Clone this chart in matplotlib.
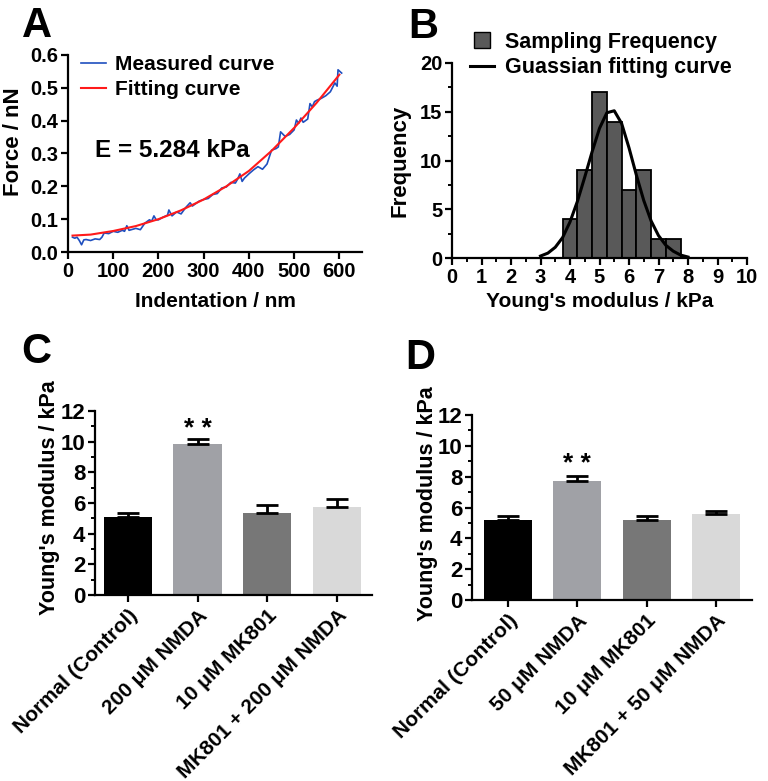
import matplotlib
matplotlib.use("Agg")
import matplotlib.pyplot as plt
from matplotlib.lines import Line2D
import numpy as np

plt.rcParams['font.family'] = ['Liberation Sans', 'DejaVu Sans']
plt.rcParams['font.weight'] = 'bold'

# ---------------- Panel A data ----------------
meas_x = [10, 15, 20, 25, 30, 35, 40, 50, 60, 70, 75, 80, 90, 100, 110, 120, 125, 130,
          135, 140, 150, 160, 170, 180, 185, 190, 195, 200, 210, 220, 223, 230, 240,
          250, 260, 270, 275, 280, 290, 300, 310, 320, 330, 340, 350, 360, 370, 375,
          380, 385, 390, 400, 410, 420, 430, 440, 450, 460, 465, 470, 480, 490, 500,
          505, 510, 515, 520, 530, 535, 540, 545, 550, 560, 570, 580, 590, 595, 597,
          605]
meas_y = [0.045, 0.042, 0.045, 0.035, 0.022, 0.037, 0.038, 0.035, 0.040, 0.038,
          0.045, 0.058, 0.056, 0.063, 0.060, 0.066, 0.063, 0.080, 0.066, 0.068,
          0.072, 0.068, 0.088, 0.098, 0.094, 0.110, 0.098, 0.098, 0.106, 0.112,
          0.128, 0.110, 0.122, 0.116, 0.135, 0.150, 0.140, 0.145, 0.155, 0.160,
          0.163, 0.175, 0.178, 0.195, 0.198, 0.212, 0.210, 0.222, 0.238, 0.215,
          0.225, 0.238, 0.250, 0.260, 0.252, 0.268, 0.310, 0.315, 0.320, 0.366,
          0.352, 0.358, 0.372, 0.402, 0.392, 0.408, 0.395, 0.405, 0.452, 0.442,
          0.458, 0.462, 0.468, 0.476, 0.488, 0.515, 0.505, 0.555, 0.545]
fit_x = [10, 50, 100, 150, 200, 250, 300, 350, 400, 450, 500, 550, 600]
fit_y = [0.050, 0.053, 0.064, 0.079, 0.100, 0.127, 0.160, 0.200, 0.247, 0.308,
         0.378, 0.455, 0.540]
modulus_text = "E = 5.284 kPa"

# ---------------- Panel B data ----------------
hist_centers = [4.0, 4.5, 5.0, 5.5, 6.0, 6.5, 7.0, 7.5]
hist_counts = [4, 9, 17, 14, 7, 9, 2, 2]
gauss_x = [3.0, 3.25, 3.5, 3.75, 4.0, 4.25, 4.5, 4.75, 5.0, 5.25, 5.5, 5.75,
           6.0, 6.25, 6.5, 6.75, 7.0, 7.25, 7.5, 7.75, 8.0]
gauss_y = [0.2, 0.5, 1.1, 2.1, 3.7, 5.8, 8.3, 10.9, 13.3, 14.9, 15.1, 13.8,
           11.3, 8.5, 5.9, 3.8, 2.3, 1.3, 0.7, 0.3, 0.1]

# ---------------- Panel C / D data ----------------
cats_c = ["Normal (Control)", "200 μM NMDA", "10 μM MK801", "MK801 + 200 μM NMDA"]
vals_c = [5.07, 9.87, 5.38, 5.73]
errs_c = [0.26, 0.33, 0.52, 0.50]
cats_d = ["Normal (Control)", "50 μM NMDA", "10 μM MK801", "MK801 + 50 μM NMDA"]
vals_d = [5.22, 7.74, 5.22, 5.57]
errs_d = [0.23, 0.32, 0.23, 0.20]
bar_colors = ["#000000", "#a0a1a6", "#777777", "#d9d9d9"]

W, H = 768, 781
fig = plt.figure(figsize=(W / 100, H / 100), dpi=100)


def px_axes(left, top, right, bottom):
    return fig.add_axes([left / W, 1 - bottom / H, (right - left) / W, (bottom - top) / H])


def style(ax, fs=14.5):
    for s in ['top', 'right']:
        ax.spines[s].set_visible(False)
    for s in ['left', 'bottom']:
        ax.spines[s].set_linewidth(1.6)
    ax.tick_params(which='major', direction='out', length=5, width=1.6, labelsize=fs, pad=2)
    ax.tick_params(which='minor', direction='out', length=3, width=1.4)
    for lab in ax.get_xticklabels() + ax.get_yticklabels():
        lab.set_fontweight('bold')


# ---------------- A ----------------
axA = px_axes(68, 55, 362, 252)
axA.plot(meas_x, meas_y, color='#1f4fbf', lw=1.2, label='Measured curve')
axA.plot(fit_x, fit_y, color='#ff1a1a', lw=1.5, label='Fitting curve')
axA.set_xlim(0, 650)
axA.set_ylim(0, 0.6)
axA.set_xticks(range(0, 601, 100))
axA.set_yticks(np.arange(0, 0.61, 0.1))
axA.set_yticklabels([f"{v:.1f}" for v in np.arange(0, 0.61, 0.1)])
style(axA)
axA.set_xlabel("Indentation / nm", fontsize=15, fontweight='bold')
axA.set_ylabel("Force / nN", fontsize=16, fontweight='bold')
axA.xaxis.set_label_coords(0.5, -0.205)
axA.yaxis.set_label_coords(-0.15, 0.56)
axA.text(60, 0.31, modulus_text, fontsize=17.5, fontweight='bold', va='center', ha='left')
leg = axA.legend(loc='upper left', bbox_to_anchor=(0.045, 1.0), frameon=False,
                 fontsize=15, handlelength=1.2, handletextpad=0.4, labelspacing=0.3,
                 borderpad=0, borderaxespad=0)
for t in leg.get_texts():
    t.set_fontweight('bold')

# ---------------- B ----------------
axB = px_axes(452, 63, 747, 258)
axB.bar(hist_centers, hist_counts, width=0.5, color='#595959', edgecolor='black', lw=1.3)
axB.plot(gauss_x, gauss_y, color='black', lw=2.2)
axB.set_xlim(0, 10)
axB.set_ylim(0, 20)
axB.set_xticks(range(0, 11))
axB.set_xticks(np.arange(0.5, 10, 1.0), minor=True)
axB.set_yticks(range(0, 21, 5))
axB.set_yticks(np.arange(2.5, 20, 5), minor=True)
style(axB)
axB.set_xlabel("Young's modulus / kPa", fontsize=15, fontweight='bold')
axB.set_ylabel("Frequency", fontsize=16, fontweight='bold')
axB.xaxis.set_label_coords(0.5, -0.175)
axB.yaxis.set_label_coords(-0.14, 0.5)
handles = [Line2D([], [], ls='none', marker='s', markersize=11, markerfacecolor='#595959',
                  markeredgecolor='black', markeredgewidth=1.0),
           Line2D([], [], color='black', lw=2.2)]
legB = axB.legend(handles, ['Sampling Frequency', 'Guassian fitting curve'],
                  loc='upper left', bbox_to_anchor=(0.06, 1.16), frameon=False,
                  fontsize=15.5, handlelength=1.15, handletextpad=0.5, labelspacing=0.2,
                  borderpad=0, borderaxespad=0)
for t in legB.get_texts():
    t.set_fontweight('bold')


# ---------------- C / D ----------------
def bar_panel(ax, cats, vals, errs, star_y, xlim):
    x = np.arange(len(cats))
    ax.bar(x, vals, width=0.69, color=bar_colors, zorder=2)
    ax.errorbar(x, vals, yerr=[np.zeros(len(vals)), errs], fmt='none', ecolor='black',
                elinewidth=2, capsize=8, capthick=2, zorder=3)
    ax.set_xlim(*xlim)
    ax.set_ylim(0, 12)
    ax.set_yticks(range(0, 13, 2))
    ax.set_yticks(range(1, 12, 2), minor=True)
    ax.set_xticks(x)
    ax.set_xticklabels(cats, rotation=45, ha='right', rotation_mode='anchor')
    style(ax, fs=16)
    ax.tick_params(axis='x', labelsize=15, pad=3)
    for lab in ax.get_xticklabels():
        lab.set_fontweight('bold')
    ax.text(1, star_y, "* *", ha='center', va='center', fontsize=19, fontweight='bold')
    ax.set_ylabel("Young's modulus / kPa", fontsize=15.5, fontweight='bold')


axC = px_axes(95, 411, 372, 595)
bar_panel(axC, cats_c, vals_c, errs_c, 10.85, (-0.47, 3.5))
axC.yaxis.set_label_coords(-0.125, 0.53)

axD = px_axes(472, 415, 752, 600)
bar_panel(axD, cats_d, vals_d, errs_d, 8.8, (-0.52, 3.52))
axD.yaxis.set_label_coords(-0.123, 0.52)

# panel letters
for letter, (xp, yp) in {'A': (22, 6), 'B': (408, 7), 'C': (21, 332), 'D': (405, 338)}.items():
    fig.text(xp / W, 1 - yp / H, letter, fontsize=30, fontweight='bold', ha='left', va='top')

fig.savefig("out.png", dpi=100)
